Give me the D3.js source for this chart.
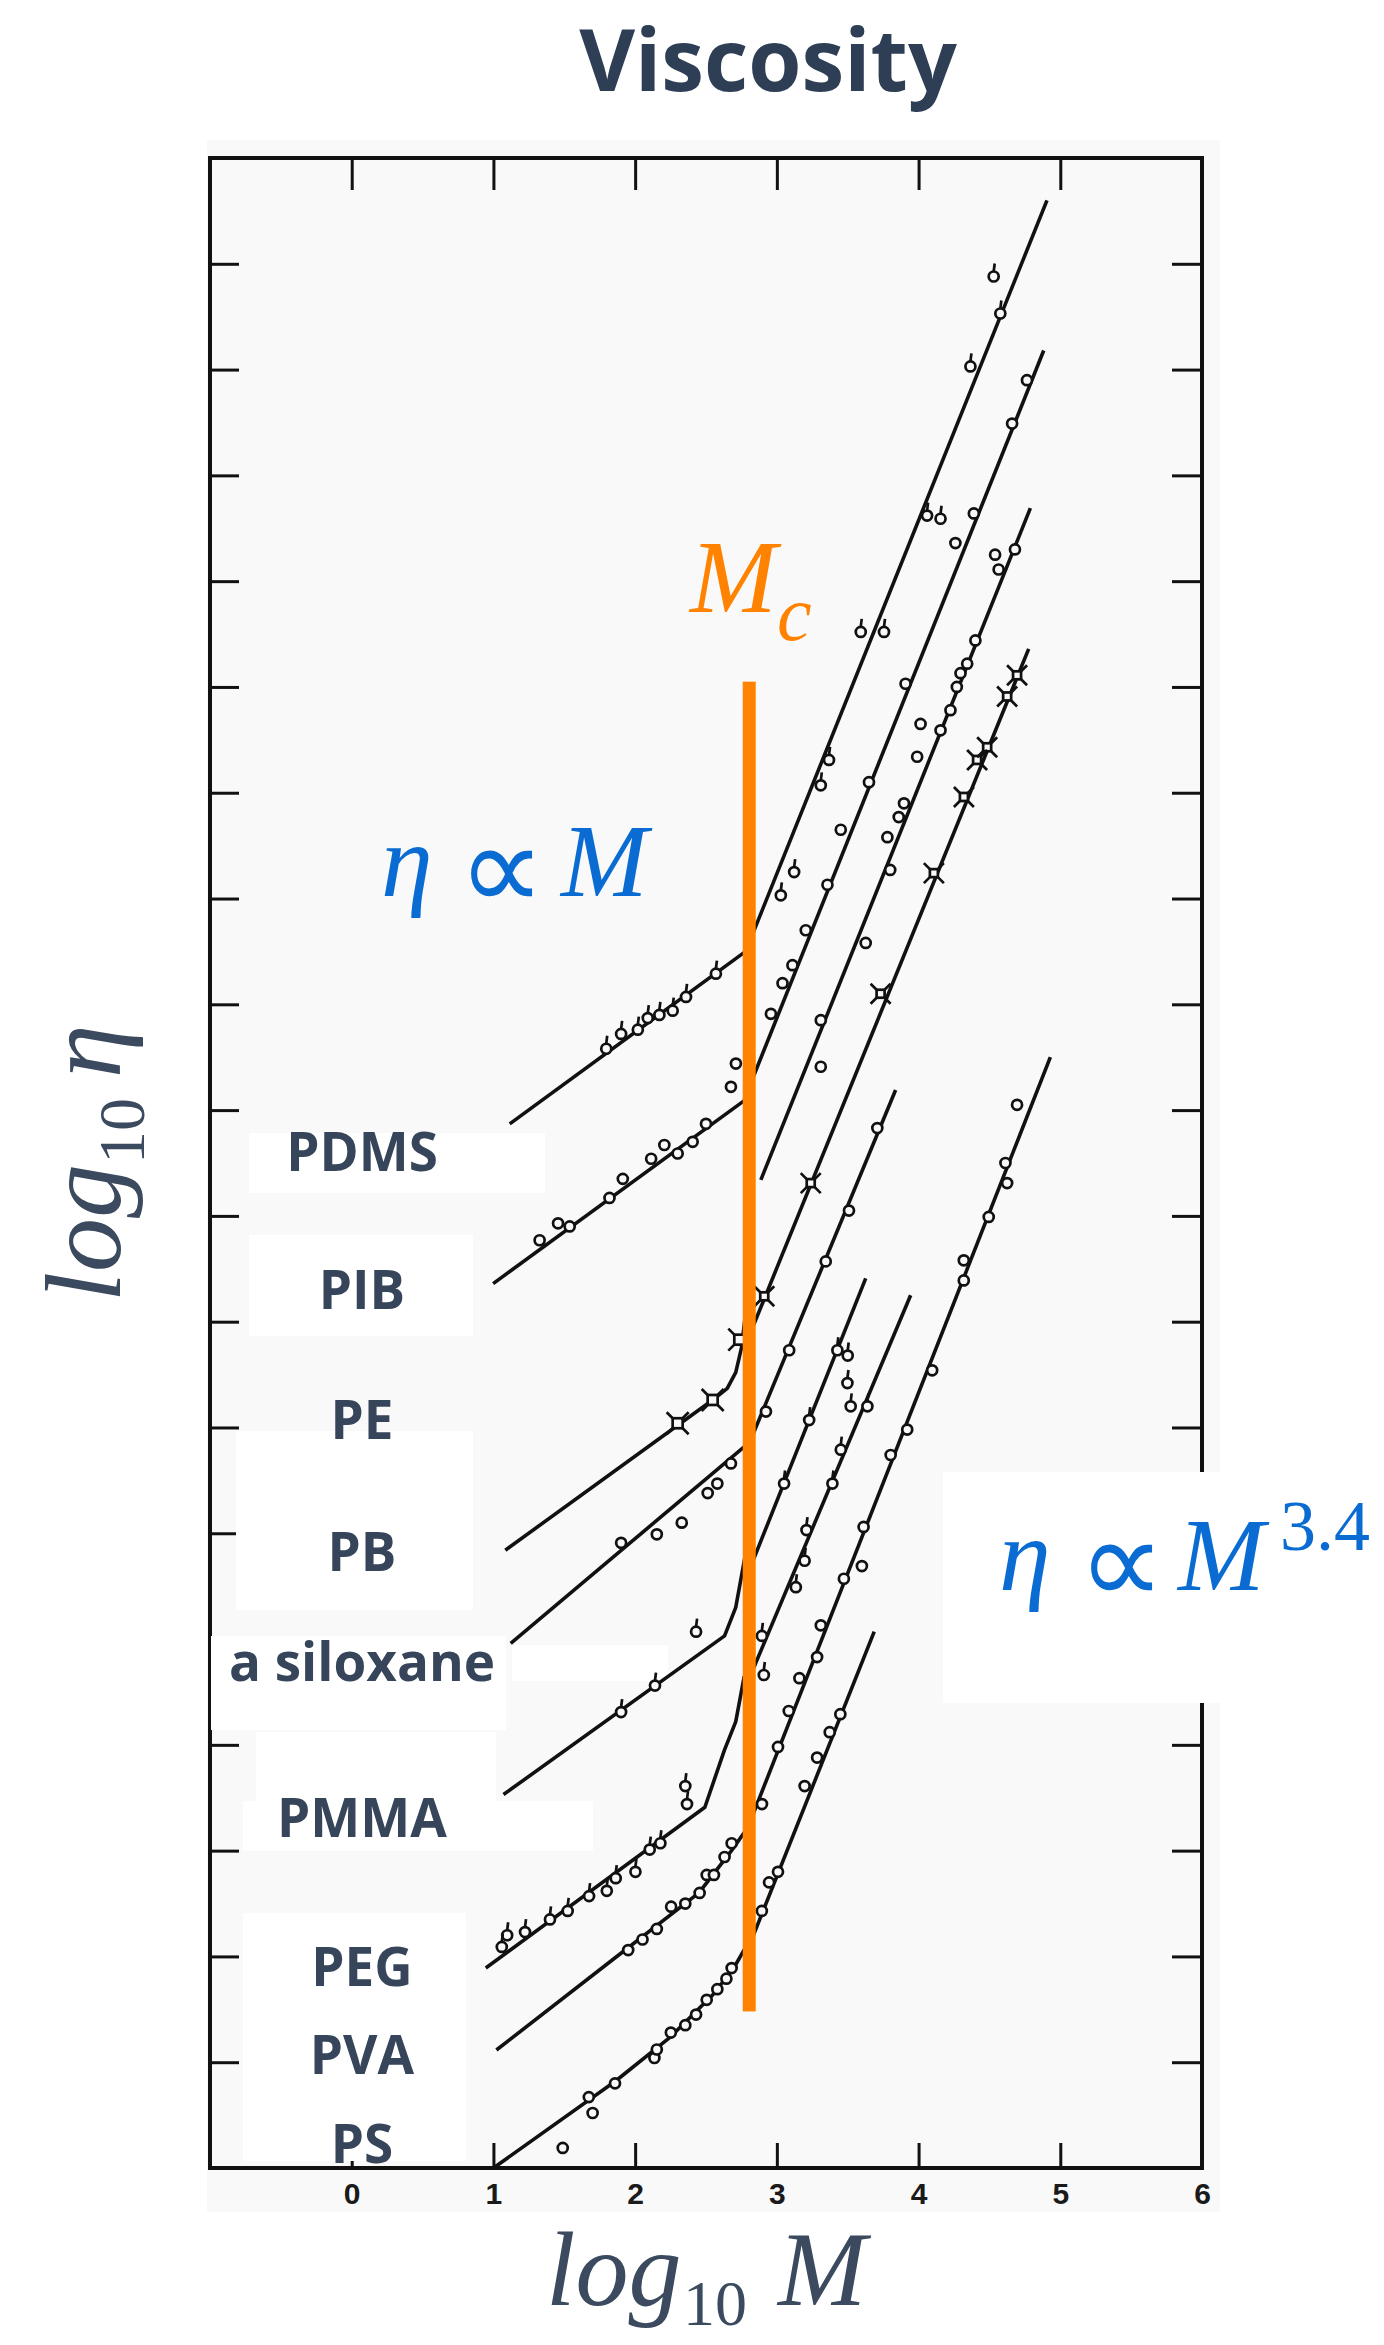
<!DOCTYPE html>
<html>
<head>
<meta charset="utf-8">
<script src="https://cdn.jsdelivr.net/npm/d3@7"></script>
<style>
body { margin: 0; background: #fff; }
</style>
</head>
<body>
<script>
//tick values and labels
var xTicks = [0, 1, 2, 3, 4, 5, 6];
var xTopTicks = [0, 1, 2, 3, 4, 5];
var yTicks = [1, 2, 3, 4, 5, 6, 7, 8, 9, 10, 11, 12, 13, 14, 15, 16, 17, 18];

//polymer names written on the left
var polymers = ["PDMS", "PIB", "PE", "PB", "a siloxane", "PMMA", "PEG", "PVA", "PS"];

//low molecular weight branches (slope ~1), [log M, log eta]
var pdmsLow = [[1.115, 9.87], [2.78, 11.50]];
var pibLow = [[0.998, 8.36], [2.77, 10.09]];
var peLow = [[1.084, 5.84], [2.547, 7.26], [2.65, 7.37], [2.71, 7.52], [2.75, 7.75], [2.79, 8.2]];
var pbLow = [[1.122, 4.96], [2.79, 6.84]];
var siloxaneLow = [[1.071, 3.53], [2.631, 5.03], [2.71, 5.30], [2.785, 5.85]];
var pmmaLow = [[0.946, 1.89], [2.492, 3.41], [2.63, 3.95], [2.71, 4.22], [2.77, 4.65]];
var pegLow = [[1.021, 1.115], [1.90, 2.03], [2.45, 2.60], [2.68, 3.0], [2.785, 3.2]];
var psLow = [[1.0, 0.0], [1.86, 0.82], [2.25, 1.24], [2.55, 1.64], [2.70, 1.90], [2.785, 2.10]];

//high molecular weight branches (slope ~3.4)
var highA = [[2.78, 11.50], [4.906, 18.60]];
var highB = [[2.77, 10.10], [4.883, 17.18]];
var highC = [[2.887, 9.34], [4.789, 15.69]];
var highD = [[2.80, 7.85], [4.777, 14.36]];
var highE = [[2.79, 6.80], [3.838, 10.19]];
var highF = [[2.79, 5.60], [3.627, 8.41]];
var highG = [[2.79, 4.58], [3.944, 8.25]];
var highH = [[2.79, 3.20], [4.93, 10.50]];
var highI = [[2.79, 2.05], [3.687, 5.07]];

//measured points
var pdmsPts = [[1.796, 10.58], [1.901, 10.72], [2.019, 10.76], [2.089, 10.87], [2.171, 10.90], [2.265, 10.94],
  [2.359, 11.07], [2.57, 11.29], [3.028, 12.03], [3.122, 12.25], [3.31, 13.07], [3.368, 13.31],
  [3.592, 14.52], [3.756, 14.52], [4.06, 15.62], [4.155, 15.59], [4.366, 17.03], [4.577, 17.53], [4.53, 17.88]];
var pibPts = [[1.326, 8.77], [1.456, 8.93], [1.538, 8.90], [1.819, 9.17], [1.913, 9.35], [2.113, 9.54],
  [2.206, 9.67], [2.30, 9.59], [2.406, 9.70], [2.50, 9.87], [2.676, 10.22], [2.711, 10.44],
  [2.958, 10.91], [3.04, 11.20], [3.11, 11.37], [3.204, 11.70], [3.357, 12.13], [3.451, 12.65],
  [3.65, 13.10], [3.908, 14.03], [4.26, 15.36], [4.39, 15.64], [4.66, 16.49], [4.765, 16.90]];
var cPts = [[3.31, 10.85], [3.31, 10.41], [3.627, 11.58], [3.78, 12.58], [3.80, 12.27], [3.86, 12.77],
  [3.897, 12.9], [3.99, 13.34], [4.014, 13.65], [4.155, 13.59], [4.225, 13.78], [4.27, 14.0],
  [4.296, 14.13], [4.343, 14.22], [4.401, 14.44], [4.54, 15.25], [4.565, 15.11], [4.68, 15.30]];
var dPts = [[2.911, 8.24], [3.239, 9.31], [3.732, 11.10], [4.108, 12.24], [4.32, 12.96], [4.413, 13.31],
  [4.484, 13.43], [4.625, 13.91], [4.695, 14.11]];
var pePts = [[2.30, 7.04], [2.547, 7.26], [2.735, 7.83]];
var ePts = [[2.923, 7.15], [3.087, 7.73], [3.345, 8.57], [3.509, 9.05], [3.709, 9.83]];
var pbPts = [[1.901, 5.91], [2.153, 5.99], [2.329, 6.10], [2.512, 6.38], [2.58, 6.47], [2.676, 6.66]];
var fPts = [[3.051, 6.47], [3.228, 7.07], [3.427, 7.73], [3.50, 7.68], [3.498, 7.42], [3.521, 7.20]];
var gPts = [[2.894, 5.03], [2.908, 4.66], [3.134, 5.49], [3.196, 5.74], [3.209, 6.03], [3.392, 6.47],
  [3.451, 6.79], [3.639, 7.20]];
var hPts = [[2.895, 3.44], [3.008, 3.98], [3.084, 4.32], [3.159, 4.63], [3.284, 4.83], [3.31, 5.13],
  [3.473, 5.57], [3.60, 5.69], [3.612, 6.06], [3.803, 6.74], [3.92, 6.98], [4.096, 7.54],
  [4.319, 8.39], [4.319, 8.58], [4.495, 8.99], [4.625, 9.31], [4.613, 9.50], [4.695, 10.05]];
var iPts = [[2.894, 2.43], [2.945, 2.70], [3.008, 2.80], [3.196, 3.61], [3.284, 3.88], [3.373, 4.12], [3.448, 4.29]];
var siloxanePts = [[1.901, 4.31], [2.14, 4.56], [2.43, 5.07]];
var pmmaPts = [[1.059, 2.09], [1.097, 2.20], [1.223, 2.23], [1.399, 2.35], [1.524, 2.43], [1.675, 2.57],
  [1.80, 2.62], [1.863, 2.74], [2.002, 2.80], [2.103, 3.01], [2.178, 3.07], [2.366, 3.44], [2.354, 3.61]];
var pegPts = [[1.951, 2.06], [2.052, 2.16], [2.153, 2.26], [2.254, 2.47], [2.354, 2.50], [2.455, 2.60],
  [2.505, 2.77], [2.556, 2.77], [2.631, 2.94], [2.681, 3.07]];
var psPts = [[1.489, 0.19], [1.673, 0.67], [1.70, 0.52], [1.858, 0.80], [2.136, 1.04], [2.153, 1.12],
  [2.252, 1.28], [2.354, 1.35], [2.43, 1.45], [2.505, 1.59], [2.58, 1.69], [2.644, 1.79], [2.681, 1.89]];

//critical molecular weight line
var mcLogM = 2.805;
var mcRange = [1.48, 14.05];

window.onload = draw();

function draw(){
    var width = 1384,
        height = 2345;

    var svg = d3.select("body")
        .append("svg")
        .attr("width", width)
        .attr("height", height);

    var x = d3.scaleLinear().domain([-1, 6]).range([210, 1202]);
    var y = d3.scaleLinear().domain([0, 19]).range([2168, 158]);

    //scanned paper background
    svg.append("rect")
        .attr("x", 207).attr("y", 140)
        .attr("width", 1013).attr("height", 2072)
        .attr("fill", "#f9f9f9");

    //axes, ticks pointing inwards
    var tickStyle = function(g){
        g.select(".domain").remove();
        g.selectAll(".tick line").attr("stroke", "#111").attr("stroke-width", 3);
    };
    svg.append("g")
        .attr("transform", "translate(0," + y(0) + ")")
        .call(d3.axisBottom(x).tickValues(xTicks).tickSize(-25).tickPadding(15).tickFormat(d3.format("d")))
        .call(tickStyle)
        .selectAll("text")
        .attr("font-family", "Liberation Sans Narrow, Liberation Sans, Arial, sans-serif")
        .attr("font-weight", "bold")
        .attr("font-size", 30)
        .attr("fill", "#1a1a1a");
    svg.append("g")
        .attr("transform", "translate(0," + y(19) + ")")
        .call(d3.axisTop(x).tickValues(xTopTicks).tickSize(-32).tickFormat(""))
        .call(tickStyle);
    svg.append("g")
        .attr("transform", "translate(" + x(-1) + ",0)")
        .call(d3.axisLeft(y).tickValues(yTicks).tickSize(-29).tickFormat(""))
        .call(tickStyle);
    svg.append("g")
        .attr("transform", "translate(" + x(6) + ",0)")
        .call(d3.axisRight(y).tickValues(yTicks).tickSize(-30).tickFormat(""))
        .call(tickStyle);

    //frame
    svg.append("rect")
        .attr("x", x(-1)).attr("y", y(19))
        .attr("width", x(6) - x(-1)).attr("height", y(0) - y(19))
        .attr("fill", "none")
        .attr("stroke", "#111")
        .attr("stroke-width", 4);

    //white patches pasted over the original labels
    var patches = [
        [249, 1133, 296, 60], [249, 1235, 224, 101], [236, 1431, 237, 179],
        [211, 1636, 295, 94], [512, 1645, 156, 36], [256, 1732, 240, 70],
        [243, 1801, 350, 50], [243, 1913, 223, 248], [943, 1472, 279, 231]
    ];
    svg.selectAll(".patch")
        .data(patches)
        .enter()
        .append("rect")
        .attr("class", "patch")
        .attr("x", function(d){ return d[0]; })
        .attr("y", function(d){ return d[1]; })
        .attr("width", function(d){ return d[2]; })
        .attr("height", function(d){ return d[3]; })
        .attr("fill", "#fff");

    //fitted lines
    var line = d3.line()
        .x(function(d){ return x(d[0]); })
        .y(function(d){ return y(d[1]); });
    var lines = [pdmsLow, pibLow, peLow, pbLow, siloxaneLow, pmmaLow, pegLow, psLow,
        highA, highB, highC, highD, highE, highF, highG, highH, highI];
    svg.selectAll(".fit")
        .data(lines)
        .enter()
        .append("path")
        .attr("class", "fit")
        .attr("d", line)
        .attr("fill", "none")
        .attr("stroke", "#111")
        .attr("stroke-width", 3.6)
        .attr("stroke-linejoin", "round");

    //data symbols
    var symbols = [
        [pdmsPts, "f"], [pibPts, "o"], [cPts, "o"], [dPts, "x"], [pePts, "s"],
        [ePts, "o"], [pbPts, "o"], [fPts, "f"], [gPts, "f"], [hPts, "o"],
        [iPts, "o"], [siloxanePts, "f"], [pmmaPts, "f"], [pegPts, "o"], [psPts, "o"]
    ];
    symbols.forEach(function(s){
        var g = svg.append("g")
            .attr("fill", "none")
            .attr("stroke", "#111")
            .attr("stroke-width", 2.7);
        var kind = s[1];
        if (kind === "o" || kind === "f"){
            g.selectAll("circle")
                .data(s[0])
                .enter()
                .append("circle")
                .attr("cx", function(d){ return x(d[0]); })
                .attr("cy", function(d){ return y(d[1]); })
                .attr("r", 5)
                .attr("fill", "#f9f9f9");
        }
        if (kind === "f"){
            g.selectAll("line")
                .data(s[0])
                .enter()
                .append("line")
                .attr("x1", function(d){ return x(d[0]); })
                .attr("y1", function(d){ return y(d[1]) - 5; })
                .attr("x2", function(d){ return x(d[0]) + 1; })
                .attr("y2", function(d){ return y(d[1]) - 13; });
        }
        if (kind === "x" || kind === "s"){
            var half = kind === "s" ? 5 : 4;
            g.selectAll("rect")
                .data(s[0])
                .enter()
                .append("rect")
                .attr("x", function(d){ return x(d[0]) - half; })
                .attr("y", function(d){ return y(d[1]) - half; })
                .attr("width", half * 2)
                .attr("height", half * 2)
                .attr("fill", "#f9f9f9");
            g.selectAll("path")
                .data(s[0])
                .enter()
                .append("path")
                .attr("d", function(d){
                    var cx = x(d[0]), cy = y(d[1]), a = half, b = half + 6;
                    return "M" + (cx - b) + "," + (cy - b) + "L" + (cx - a) + "," + (cy - a) +
                        "M" + (cx + b) + "," + (cy - b) + "L" + (cx + a) + "," + (cy - a) +
                        "M" + (cx - b) + "," + (cy + b) + "L" + (cx - a) + "," + (cy + a) +
                        "M" + (cx + b) + "," + (cy + b) + "L" + (cx + a) + "," + (cy + a);
                });
        }
    });

    //critical molecular weight marker
    svg.append("rect")
        .attr("x", x(mcLogM) - 6.5)
        .attr("y", y(mcRange[1]))
        .attr("width", 13)
        .attr("height", y(mcRange[0]) - y(mcRange[1]))
        .attr("fill", "#ff8200");

    //polymer labels
    var labelY = [1171, 1309, 1439, 1571, 1681, 1837, 1986, 2074, 2163];
    svg.selectAll(".poly")
        .data(polymers)
        .enter()
        .append("text")
        .attr("class", "poly")
        .attr("x", 362)
        .attr("y", function(d, i){ return labelY[i]; })
        .attr("text-anchor", "middle")
        .attr("font-family", "Open Sans, sans-serif")
        .attr("font-weight", "bold")
        .attr("font-size", 53)
        .attr("fill", "#36455a")
        .text(function(d){ return d; });

    //title
    svg.append("text")
        .attr("x", 768).attr("y", 91)
        .attr("text-anchor", "middle")
        .attr("font-family", "Open Sans, sans-serif")
        .attr("font-weight", "bold")
        .attr("font-size", 86)
        .attr("fill", "#2e3e55")
        .text("Viscosity");

    var serif = "Liberation Serif, Times New Roman, serif";

    //x axis title
    var xt = svg.append("text")
        .attr("y", 2305)
        .attr("font-family", serif)
        .attr("font-size", 106)
        .attr("fill", "#3b4a5e");
    xt.append("tspan").attr("x", 546).attr("font-style", "italic").text("log");
    xt.append("tspan").attr("x", 683).attr("dy", 20).attr("font-size", 64).text("10");
    xt.append("tspan").attr("x", 778).attr("dy", -20).attr("font-style", "italic").text("M");

    //y axis title
    var yt = svg.append("text")
        .attr("transform", "translate(120,1302) rotate(-90)")
        .attr("font-family", serif)
        .attr("font-size", 108)
        .attr("fill", "#3b4a5e");
    yt.append("tspan").attr("font-style", "italic").text("log");
    yt.append("tspan").attr("dy", 24).attr("font-size", 66).text("10");
    yt.append("tspan").attr("dy", -24).attr("dx", 20).attr("font-style", "italic").text("η");

    //scaling laws
    var blue = "#0a6cd2";
    var lowLaw = svg.append("text")
        .attr("y", 896)
        .attr("font-family", serif)
        .attr("font-size", 104)
        .attr("fill", blue);
    lowLaw.append("tspan").attr("x", 381).attr("font-style", "italic").text("η");
    lowLaw.append("tspan").attr("x", 458).attr("dy", 14).attr("font-size", 122).text("∝");
    lowLaw.append("tspan").attr("x", 561).attr("dy", -14).attr("font-style", "italic").text("M");

    var highLaw = svg.append("text")
        .attr("y", 1590)
        .attr("font-family", serif)
        .attr("font-size", 104)
        .attr("fill", blue);
    highLaw.append("tspan").attr("x", 999).attr("font-style", "italic").text("η");
    highLaw.append("tspan").attr("x", 1078).attr("dy", 14).attr("font-size", 122).text("∝");
    highLaw.append("tspan").attr("x", 1178).attr("dy", -14).attr("font-style", "italic").text("M");
    highLaw.append("tspan").attr("x", 1280).attr("dy", -40).attr("font-size", 72).text("3.4");

    //Mc label
    var mc = svg.append("text")
        .attr("y", 612)
        .attr("font-family", serif)
        .attr("font-style", "italic")
        .attr("font-size", 104)
        .attr("fill", "#ff8200");
    mc.append("tspan").attr("x", 690).text("M");
    mc.append("tspan").attr("x", 777).attr("dy", 28).attr("font-size", 78).text("c");
}
</script>
</body>
</html>
